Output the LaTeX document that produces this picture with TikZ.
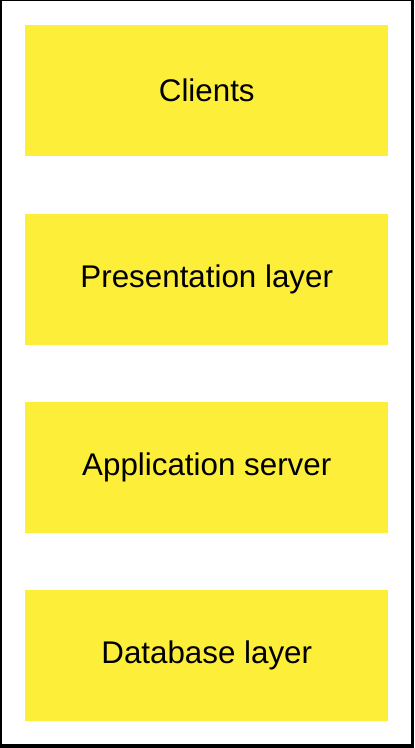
\documentclass[tikz,border=0pt]{standalone}
\usepackage{fontspec}
\setmainfont{Liberation Sans}
\definecolor{layeryellow}{RGB}{253,238,58}
\begin{document}
\begin{tikzpicture}[x=0.75pt,y=-0.75pt,
  layer/.style={fill=layeryellow, draw=none, inner sep=0pt, minimum width=363*0.75pt, minimum height=131*0.75pt,
    font=\fontsize{23.5pt}{28pt}\selectfont, text=black, anchor=north west}]
  % outer frame
  \fill[black] (0,0) rectangle (414,748);
  \fill[white] (2,1) rectangle (411,744);
  \useasboundingbox (0,0) rectangle (414,748);
  % stacked layers
  \node[layer] (clients) at (25,25) {Clients};
  \node[layer] (presentation) at (25,214) {Presentation layer};
  \node[layer] (application) at (25,402) {Application server};
  \node[layer] (database) at (25,590) {Database layer};
\end{tikzpicture}
\end{document}
